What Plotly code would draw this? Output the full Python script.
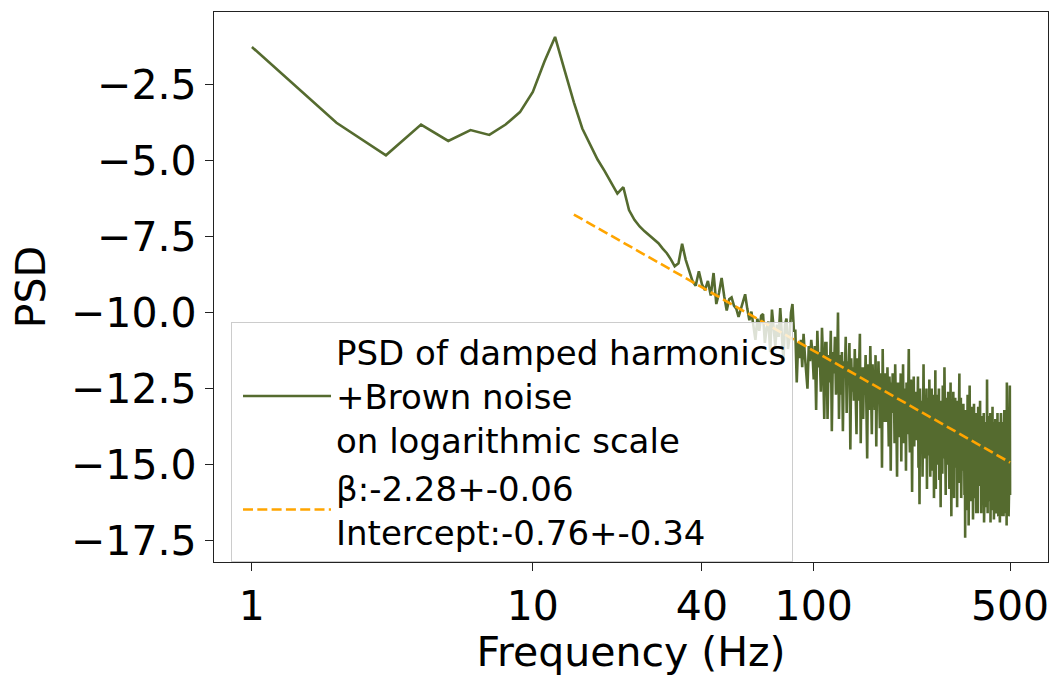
import math
import plotly.graph_objects as go

# ---- data ----
FREQ_HZ = list(range(1, 501))  # 1 Hz bins

PSD_LOG = [
    -1.27, -3.76, -4.83, -3.82, -4.36, -4.00, -4.16, -3.82, -3.41, -2.75,
    -1.75, -0.94, -2.06, -3.09, -3.95, -4.49, -4.97, -5.34, -5.72, -6.09,
    -5.88, -6.63, -6.95, -7.17, -7.33, -7.46, -7.58, -7.72, -7.90, -8.05,
    -8.25, -8.48, -8.38, -7.74, -8.26, -8.66, -8.96, -9.12, -8.64, -9.07,
    -9.26, -8.96, -9.44, -8.70, -9.72, -9.36, -8.86, -9.46, -9.93, -9.56,
    -9.50, -9.77, -9.87, -10.14, -9.87, -9.67, -9.40, -9.87, -10.25, -9.97,
    -10.4, -10.9, -10.2, -10.6, -10.1, -10.05, -11.0, -10.5, -10.3, -11.3,
    -9.9, -10.6, -11.1, -10.4, -10.8, -9.85, -10.9, -11.6, -10.4, -10.2,
    -11.2, -10.8, -10.0, -9.72, -10.6, -10.6, -12.3, -11.0, -11.5, -10.9,
    -11.8, -10.7, -11.4, -12.0, -12.5, -11.1, -11.6, -10.9, -11.34, -12.2,
    -11.1, -13.2, -10.6, -11.8, -11.3, -12.6, -10.5, -11.6, -13.5, -11.0,
    -11.0, -13.5, -11.4, -12.3, -10.6, -13.9, -11.3, -12.0, -10.8, -12.7,
    -12.3, -10.0, -13.5, -11.4, -12.7, -11.3, -13.9, -11.6, -12.1, -10.8,
    -13.3, -11.6, -12.0, -11.0, -14.5, -11.5, -12.6, -11.8, -12.9, -11.2,
    -12.4, -14.0, -11.5, -12.9, -11.9, -10.7, -14.3, -11.8, -12.6, -13.5,
    -11.8, -12.7, -11.4, -13.5, -14.8, -11.7, -12.2, -13.2, -11.1, -12.5,
    -14.0, -11.7, -12.6, -12.0, -13.2, -11.4, -14.4, -12.2, -12.9, -11.6,
    -12.9, -13.8, -12.0, -12.4, -15.1, -11.2, -13.2, -12.2, -13.6, -12.0,
    -12.5, -13.6, -11.8, -13.0, -14.4, -12.1, -12.7, -15.2, -12.3, -13.3,
    -12.0, -13.2, -12.5, -14.3, -11.7, -13.0, -13.7, -15.4, -12.3, -12.9,
    -14.1, -12.3, -13.2, -12.0, -14.9, -12.7, -13.5, -11.7, -14.3, -12.5,
    -13.5, -12.7, -15.2, -12.3, -13.1, -14.0, -12.6, -11.2, -13.8, -14.6,
    -12.9, -12.2, -13.7, -15.9, -12.7, -13.3, -12.1, -14.4, -12.6, -13.8,
    -12.6, -14.2, -13.1, -13.6, -12.1, -15.1, -12.9, -16.3, -12.5, -13.7,
    -14.5, -12.9, -13.6, -15.4, -12.5, -11.7, -14.0, -13.1, -14.8, -12.8,
    -13.6, -12.5, -15.8, -13.1, -14.2, -12.8, -14.7, -12.2, -13.5, -15.4,
    -13.1, -14.1, -12.5, -15.2, -13.3, -13.8, -12.7, -16.1, -13.0, -14.5,
    -11.9, -15.8, -13.3, -14.1, -12.7, -15.0, -13.5, -14.4, -12.5, -15.5,
    -13.2, -14.0, -16.4, -12.9, -14.6, -13.5, -15.3, -12.4, -14.1, -13.1,
    -14.8, -11.8, -14.2, -13.3, -16.0, -12.8, -13.9, -15.0, -13.0, -14.4,
    -12.6, -14.4, -13.5, -15.8, -13.0, -14.8, -12.3, -14.1, -16.7, -13.3,
    -13.0, -14.3, -15.4, -12.6, -13.9, -16.1, -13.3, -14.7, -12.8, -15.1,
    -13.6, -14.6, -12.9, -16.4, -13.4, -14.1, -15.3, -13.1, -14.8, -12.0,
    -15.6, -13.4, -14.3, -12.8, -16.1, -13.8, -14.6, -13.1, -15.2, -13.6,
    -13.0, -14.9, -13.8, -16.0, -13.4, -17.4, -13.2, -14.5, -16.5, -13.6,
    -13.9, -14.7, -12.7, -15.4, -13.7, -17.0, -13.3, -14.3, -12.4, -15.1,
    -13.6, -16.2, -14.1, -14.9, -13.1, -15.7, -13.8, -14.5, -16.8, -13.3,
    -14.8, -13.0, -15.4, -14.1, -16.1, -13.6, -14.5, -13.3, -16.6, -14.0,
    -13.5, -15.2, -13.9, -16.6, -13.1, -14.7, -14.2, -15.7, -13.4, -15.0,
    -12.9, -15.6, -14.5, -13.8, -16.6, -14.1, -15.0, -13.4, -16.1, -14.2,
    -13.8, -15.0, -13.3, -16.9, -14.3, -15.5, -13.6, -14.8, -16.4, -14.0,
    -14.9, -13.7, -15.9, -12.2, -15.1, -16.6, -14.1, -15.4, -13.4, -14.7,
    -13.7, -16.2, -14.3, -15.1, -13.3, -16.9, -14.0, -14.8, -15.8, -13.8,
    -14.2, -15.4, -13.1, -16.5, -14.4, -15.0, -13.6, -16.8, -14.0, -15.9,
    -14.0, -14.9, -13.5, -16.2, -14.4, -16.6, -13.8, -15.3, -14.6, -15.8,
    -13.3, -15.4, -14.5, -16.7, -13.9, -15.0, -13.6, -16.3, -14.2, -16.9,
    -13.9, -14.5, -16.0, -13.3, -15.3, -16.7, -14.2, -14.9, -13.8, -16.2,
    -14.4, -15.6, -13.6, -16.7, -14.1, -15.1, -13.2, -16.2, -14.6, -15.4,
    -14.1, -16.6, -14.6, -15.4, -13.8, -17.0, -12.3, -15.8, -14.4, -16.1,
    -14.3, -15.3, -13.9, -16.7, -14.7, -15.8, -13.6, -16.0, -12.4, -16.0,
]

FIT_BETA = -2.28
FIT_INTERCEPT = -0.76
FIT_FREQ_HZ = [14, 500]
FIT_PSD = [FIT_INTERCEPT + FIT_BETA * math.log(f) for f in FIT_FREQ_HZ]

X_TICKS = [1, 10, 40, 100, 500]
X_TICK_TEXT = ["1", "10", "40", "100", "500"]
Y_TICKS = [-2.5, -5.0, -7.5, -10.0, -12.5, -15.0, -17.5]
Y_TICK_TEXT = ["\u22122.5", "\u22125.0", "\u22127.5", "\u221210.0",
               "\u221212.5", "\u221215.0", "\u221217.5"]

NAME_PSD = "PSD of damped harmonics<br>+Brown noise<br>on logarithmic scale"
NAME_FIT = "\u03b2:-2.28+-0.06<br>Intercept:-0.76+-0.34"

FONT = "DejaVu Sans"

fig = go.Figure()
fig.add_trace(go.Scatter(
    x=FREQ_HZ, y=PSD_LOG, mode="lines", name=NAME_PSD,
    line=dict(color="#556B2F", width=2.6),
))
fig.add_trace(go.Scatter(
    x=FIT_FREQ_HZ, y=FIT_PSD, mode="lines", name=NAME_FIT,
    line=dict(color="#FFA500", width=2.6, dash="10px,4.3px"),
))

axis_common = dict(
    showgrid=False, zeroline=False, showline=True, mirror=True,
    linecolor="#222222", linewidth=1.4, ticks="outside", ticklen=8,
    tickwidth=1.2, tickcolor="#222222",
    tickfont=dict(family=FONT, size=41, color="black"),
)

fig.update_layout(
    width=1064, height=676, autosize=False,
    margin=dict(l=214, r=16, t=11, b=103),
    paper_bgcolor="white", plot_bgcolor="white",
    font=dict(family=FONT, color="black"),
    xaxis=dict(
        type="log", range=[-0.135, 2.834],
        tickmode="array", tickvals=X_TICKS, ticktext=X_TICK_TEXT,
        title=dict(text="Frequency (Hz)", font=dict(family=FONT, size=41), standoff=6),
        **axis_common,
    ),
    yaxis=dict(
        range=[-18.2, -0.12],
        tickmode="array", tickvals=Y_TICKS, ticktext=Y_TICK_TEXT,
        title=dict(text="PSD", font=dict(family=FONT, size=41), standoff=12),
        **axis_common,
    ),
    legend=dict(
        x=0.0204, y=0.436, xanchor="left", yanchor="top",
        bgcolor="rgba(255,255,255,0.8)", bordercolor="#cccccc", borderwidth=1,
        font=dict(family=FONT, size=34, color="black"),
        itemwidth=88, indentation=6,
    ),
    showlegend=True,
)

fig.write_html("out.html")
